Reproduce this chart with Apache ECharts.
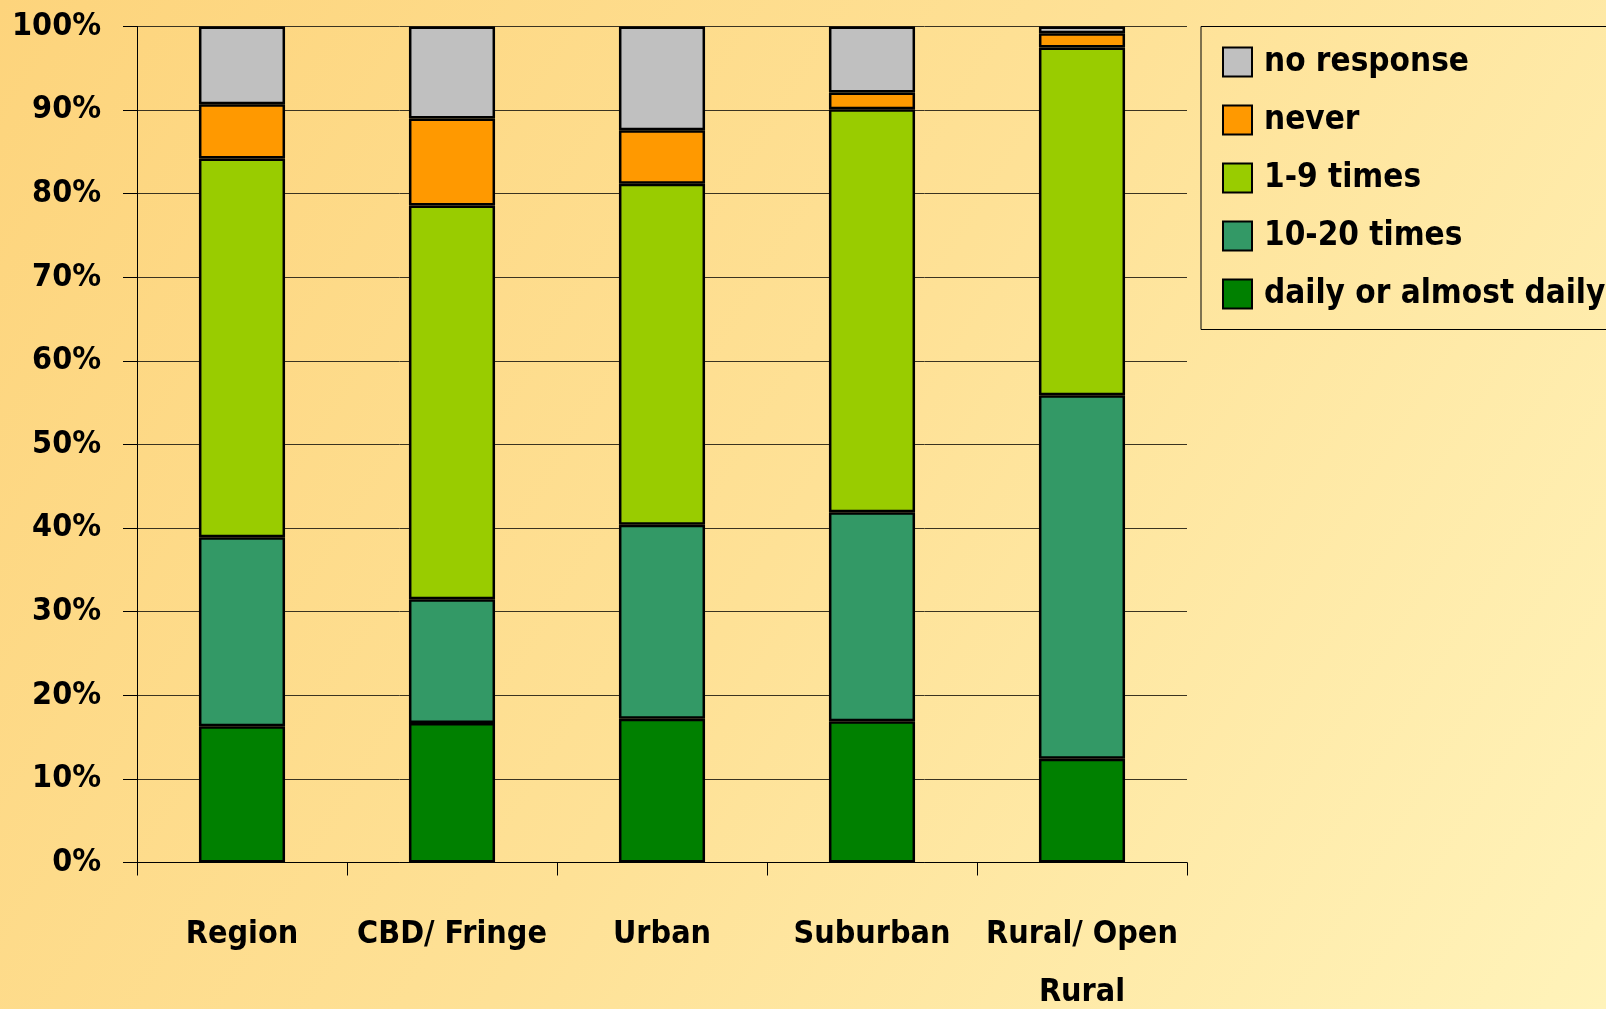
<!DOCTYPE html>
<html>
<head>
<meta charset="utf-8">
<script src="https://cdn.jsdelivr.net/npm/echarts@6/dist/echarts.min.js"></script>
<style>
  html, body { margin: 0; padding: 0; }
  #chart { width: 1606px; height: 1009px; }
</style>
</head>
<body>
<div id="chart"></div>
<script>
// categories and stacked shares (percent)
const categories = ["Region", "CBD/ Fringe", "Urban", "Suburban", "Rural/ Open Rural"];
const daily = [16.3, 16.7, 17.2, 16.9, 12.4];
const times10to20 = [22.6, 14.8, 23.2, 25.0, 43.5];
const times1to9 = [45.3, 47.1, 40.8, 48.2, 41.6];
const never = [6.5, 10.4, 6.4, 2.0, 1.7];
const noResponse = [9.3, 11.0, 12.4, 7.9, 0.8];
const yTicks = [0, 10, 20, 30, 40, 50, 60, 70, 80, 90, 100];

const font = "'Liberation Sans Narrow', 'DejaVu Sans Condensed', sans-serif";

function bar(name, data, color) {
  return {
    name: name,
    type: "bar",
    stack: "total",
    barWidth: "41%",
    data: data,
    itemStyle: { color: color, borderColor: "#000", borderWidth: 2.5 }
  };
}

const chart = echarts.init(document.getElementById("chart"));
chart.setOption({
  animation: false,
  backgroundColor: {
    type: "linear", x: 0, y: 0, x2: 1, y2: 1,
    colorStops: [
      { offset: 0, color: "#fdd47c" },
      { offset: 0.5, color: "#fee196" },
      { offset: 1, color: "#fff3ba" }
    ]
  },
  textStyle: { fontFamily: font },
  grid: {
    left: 137,
    right: 419,
    top: 26.5,
    bottom: 146.5,
    containLabel: false,
    outerBoundsMode: "none"
  },
  legend: {
    data: ["no response", "never", "1-9 times", "10-20 times", "daily or almost daily"],
    orient: "vertical",
    left: 1201,
    top: 26.5,
    padding: [19, 40, 19, 21],
    itemWidth: 29,
    itemHeight: 29,
    itemGap: 25,
    borderColor: "#000",
    borderWidth: 1,
    icon: "rect",
    textStyle: {
      fontFamily: font,
      fontSize: 33,
      fontWeight: "bold",
      color: "#000",
      lineHeight: 33,
      padding: [0, 0, 0, 7]
    }
  },
  xAxis: {
    type: "category",
    data: categories,
    axisLine: { lineStyle: { color: "#000", width: 1 } },
    axisTick: { show: true, length: 13, lineStyle: { color: "#000" } },
    axisLabel: {
      interval: 0,
      margin: 43,
      fontSize: 32,
      fontWeight: "bold",
      color: "#000",
      lineHeight: 58,
      formatter: v => v.replace("Open ", "Open\n")
    }
  },
  yAxis: {
    type: "value",
    min: yTicks[0],
    max: yTicks[yTicks.length - 1],
    interval: 10,
    axisLine: { show: true, lineStyle: { color: "#000", width: 1 } },
    axisTick: { show: true, length: 14, lineStyle: { color: "#000" } },
    splitLine: { lineStyle: { color: "#3a3320", width: 1 } },
    axisLabel: {
      margin: 36,
      fontSize: 32,
      fontWeight: "bold",
      color: "#000",
      formatter: "{value}%"
    }
  },
  series: [
    bar("daily or almost daily", daily, "#008000"),
    bar("10-20 times", times10to20, "#339966"),
    bar("1-9 times", times1to9, "#99cc00"),
    bar("never", never, "#ff9900"),
    bar("no response", noResponse, "#c0c0c0")
  ]
});
</script>
</body>
</html>
